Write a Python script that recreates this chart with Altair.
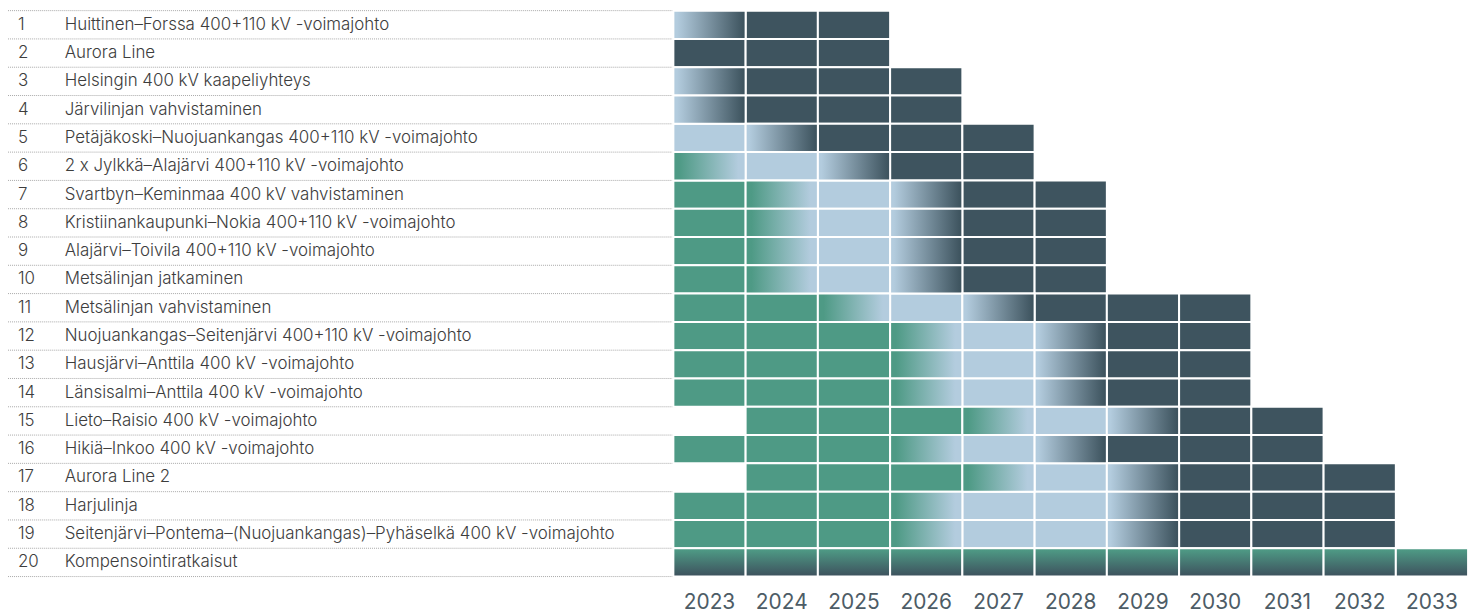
import altair as alt
import pandas as pd

# ---------------- data ----------------
years = list(range(2023, 2034))
numbers = list(range(1, 21))
labels = [
    "Huittinen–Forssa 400+110 kV -voimajohto",
    "Aurora Line",
    "Helsingin 400 kV kaapeliyhteys",
    "Järvilinjan vahvistaminen",
    "Petäjäkoski–Nuojuankangas 400+110 kV -voimajohto",
    "2 x Jylkkä–Alajärvi 400+110 kV -voimajohto",
    "Svartbyn–Keminmaa 400 kV vahvistaminen",
    "Kristiinankaupunki–Nokia 400+110 kV -voimajohto",
    "Alajärvi–Toivila 400+110 kV -voimajohto",
    "Metsälinjan jatkaminen",
    "Metsälinjan vahvistaminen",
    "Nuojuankangas–Seitenjärvi 400+110 kV -voimajohto",
    "Hausjärvi–Anttila 400 kV -voimajohto",
    "Länsisalmi–Anttila 400 kV -voimajohto",
    "Lieto–Raisio 400 kV -voimajohto",
    "Hikiä–Inkoo 400 kV -voimajohto",
    "Aurora Line 2",
    "Harjulinja",
    "Seitenjärvi–Pontema–(Nuojuankangas)–Pyhäselkä 400 kV -voimajohto",
    "Kompensointiratkaisut",
]
start_year = [2023, 2023, 2023, 2023, 2023, 2023, 2023, 2023, 2023, 2023,
              2023, 2023, 2023, 2023, 2024, 2023, 2024, 2023, 2023, 2023]
# G = green, GB = green->blue, B = light blue, BD = blue->dark, D = dark, V = vertical green->dark
phases = [
    ["BD", "D", "D"],
    ["D", "D", "D"],
    ["BD", "D", "D", "D"],
    ["BD", "D", "D", "D"],
    ["B", "BD", "D", "D", "D"],
    ["GB", "B", "BD", "D", "D"],
    ["G", "GB", "B", "BD", "D", "D"],
    ["G", "GB", "B", "BD", "D", "D"],
    ["G", "GB", "B", "BD", "D", "D"],
    ["G", "GB", "B", "BD", "D", "D"],
    ["G", "G", "GB", "B", "BD", "D", "D", "D"],
    ["G", "G", "G", "GB", "B", "BD", "D", "D"],
    ["G", "G", "G", "GB", "B", "BD", "D", "D"],
    ["G", "G", "G", "GB", "B", "BD", "D", "D"],
    ["G", "G", "G", "GB", "B", "BD", "D", "D"],
    ["G", "G", "G", "GB", "B", "BD", "D", "D", "D"],
    ["G", "G", "G", "GB", "B", "BD", "D", "D", "D"],
    ["G", "G", "G", "GB", "B", "B", "BD", "D", "D", "D"],
    ["G", "G", "G", "GB", "B", "B", "BD", "D", "D", "D"],
    ["V"] * 11,
]

GREEN = "#4E9A85"
BLUE = "#B3CCDE"
DARK = "#3E545F"
TEXT = "#3d3d3d"

recs = []
for i, (s, ph) in enumerate(zip(start_year, phases)):
    for j, p in enumerate(ph):
        recs.append({"row": i + 1, "year": s + j, "phase": p})
cells = pd.DataFrame(recs)
cells["x1"] = cells["year"] - 0.5
cells["x2"] = cells["year"] + 0.5
cells["y1"] = cells["row"] - 1
cells["y2"] = cells["row"]

lab = pd.DataFrame({"row": numbers, "num": [str(n) for n in numbers], "label": labels})
lab["yc"] = lab["row"] - 0.5
grid = pd.DataFrame({"k": list(range(0, len(numbers) + 1))})
yrs = pd.DataFrame({"year": years, "txt": [str(y) for y in years]})

# ---------------- geometry ----------------
W, H = 1476, 605
COLW = 72.64
LEFT = 669.0          # left edge of the first year column (plot coords)
ROWH = 28.45
TOP = 1.0
xd0 = 2022.5 - LEFT / COLW
xd1 = xd0 + W / COLW
yd0 = -TOP / ROWH
yd1 = yd0 + H / ROWH

xs = alt.Scale(domain=[xd0, xd1], nice=False, zero=False)
ys = alt.Scale(domain=[yd0, yd1], nice=False, zero=False, reverse=True)


def grad(c1, c2, o1, o2, vertical=False):
    return alt.LinearGradient(
        gradient="linear",
        stops=[alt.GradientStop(offset=0, color=c1),
               alt.GradientStop(offset=o1, color=c1),
               alt.GradientStop(offset=o2, color=c2),
               alt.GradientStop(offset=1, color=c2)],
        x1=0, y1=0,
        x2=0 if vertical else 1,
        y2=1 if vertical else 0,
    )


fills = {
    "G": GREEN,
    "B": BLUE,
    "D": DARK,
    "GB": grad(GREEN, BLUE, 0.08, 0.9),
    "BD": grad(BLUE, DARK, 0.05, 0.97),
    "V": grad(GREEN, DARK, 0.05, 0.95, vertical=True),
}

base = alt.Chart(cells)
layers = []

rules = alt.Chart(grid).mark_rule(color="#a8a8a8", strokeDash=[1, 1], strokeWidth=1).encode(
    y=alt.Y("k:Q", scale=ys, axis=None),
    x=alt.value(0),
    x2=alt.value(LEFT + 2),
)
layers.append(rules)

for key, f in fills.items():
    layers.append(
        base.transform_filter(alt.datum.phase == key)
        .mark_rect(fill=f, stroke="white", strokeWidth=2)
        .encode(
            x=alt.X("x1:Q", scale=xs, axis=None),
            x2="x2:Q",
            y=alt.Y("y1:Q", scale=ys, axis=None),
            y2="y2:Q",
        )
    )

nums = alt.Chart(lab).mark_text(align="left", baseline="middle", font="Inter",
                                fontSize=17, fontWeight=300, color=TEXT).encode(
    y=alt.Y("yc:Q", scale=ys, axis=None), x=alt.value(10), text="num:N")
names = alt.Chart(lab).mark_text(align="left", baseline="middle", font="Inter",
                                 fontSize=17, fontWeight=300, color=TEXT).encode(
    y=alt.Y("yc:Q", scale=ys, axis=None), x=alt.value(57), text="label:N")
yrtext = alt.Chart(yrs).mark_text(align="center", baseline="middle", font="Inter",
                                  fontSize=21, fontWeight=400, color="#4d5c66").encode(
    x=alt.X("year:Q", scale=xs, axis=None), y=alt.value(597), text="txt:N")

layers += [nums, names, yrtext]

chart = alt.layer(*layers).properties(
    width=W, height=H, autosize=alt.AutoSizeParams(type="none"), padding=0
).configure_view(stroke=None)

chart.save("out.html", embed_options={"renderer": "svg", "actions": False})
